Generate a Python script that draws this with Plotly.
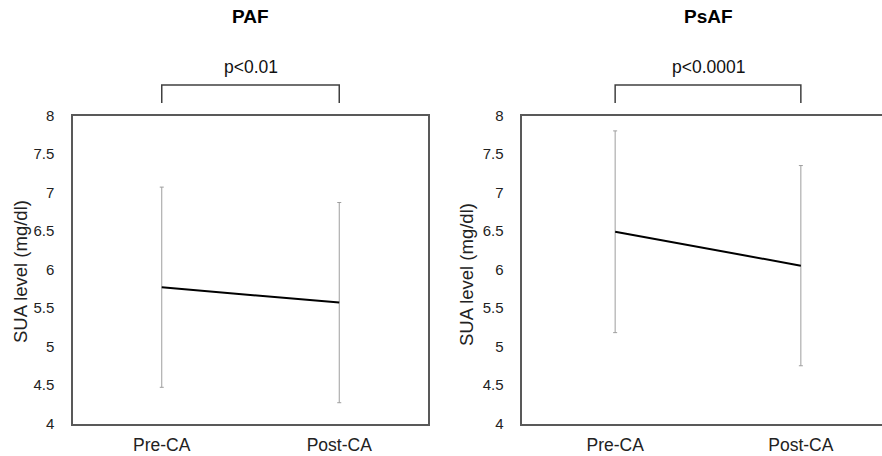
import plotly.graph_objects as go

categories = ["Pre-CA", "Post-CA"]
paf_mean = [5.77, 5.57]
paf_sd = [1.30, 1.30]
psaf_mean = [6.49, 6.05]
psaf_sd = [1.31, 1.30]
panel_titles = ["PAF", "PsAF"]
p_values = ["p<0.01", "p<0.0001"]
y_ticks = [4, 4.5, 5, 5.5, 6, 6.5, 7, 7.5, 8]
y_title = "SUA level (mg/dl)"

W, H = 882, 456
FONT = "Arial, Liberation Sans, sans-serif"
AXIS_COL = "#595959"

fig = go.Figure()
for i, (m, s) in enumerate([(paf_mean, paf_sd), (psaf_mean, psaf_sd)]):
    ax = "" if i == 0 else "2"
    fig.add_trace(go.Scatter(
        x=categories, y=m, mode="lines",
        line=dict(color="black", width=2),
        error_y=dict(type="data", array=s, visible=True, color="#9e9e9e",
                     thickness=1, width=2),
        xaxis="x" + ax, yaxis="y" + ax, showlegend=False, hoverinfo="skip"))

top_px, bot_px = 115.5, 423.5
ydom = [1 - bot_px / H, 1 - top_px / H]

common_y = dict(range=[4, 8], tickvals=y_ticks, showgrid=False, zeroline=False,
                showline=True, linecolor=AXIS_COL, linewidth=1.5, ticks="",
                ticklabelstandoff=14, tickfont=dict(family=FONT, size=15, color="#222"),
                domain=ydom, fixedrange=True, automargin=False)
common_x = dict(type="category", showgrid=False, zeroline=False, showline=True,
                linecolor=AXIS_COL, linewidth=1.5, ticks="", ticklabelstandoff=5,
                tickfont=dict(family=FONT, size=17.5, color="#222"), fixedrange=True,
                automargin=False)

fig.update_layout(
    width=W, height=H, margin=dict(l=0, r=0, t=0, b=0, autoexpand=False),
    plot_bgcolor="white", paper_bgcolor="white",
    xaxis=dict(common_x, domain=[73 / W, 428 / W], range=[-0.5, 1.5], mirror=True,
               anchor="y"),
    yaxis=dict(common_y, mirror=True, anchor="x"),
    xaxis2=dict(common_x, domain=[522.3 / W, 1.0], range=[-0.5, 1.437], mirror=True,
                anchor="y2"),
    yaxis2=dict(common_y, mirror=False, anchor="x2"),
)

shapes = []
annotations = []
for i, ax in enumerate(["x", "x2"]):
    y_top = 1 - 85 / H
    y_bot = 1 - 103 / H
    shapes.append(dict(type="path", xref=ax, yref="paper",
                       path=f"M 0,{y_bot} L 0,{y_top} L 1,{y_top} L 1,{y_bot}",
                       line=dict(color="#404040", width=1.5)))
    annotations.append(dict(text=p_values[i], xref=ax, yref="paper", x=0.5,
                            y=1 - 67 / H, xanchor="center", yanchor="middle",
                            showarrow=False, font=dict(family=FONT, size=17.5, color="#111")))
    annotations.append(dict(text="<b>" + panel_titles[i] + "</b>", xref=ax, yref="paper",
                            x=0.5, y=1 - 17 / H, xanchor="center", yanchor="middle",
                            showarrow=False, font=dict(family=FONT, size=19, color="black")))

for xc, yc in [(20, 272), (466, 275)]:
    annotations.append(dict(text=y_title, xref="paper", yref="paper", x=xc / W,
                            y=1 - yc / H, xanchor="center", yanchor="middle",
                            textangle=-90, showarrow=False,
                            font=dict(family=FONT, size=18.5, color="#222")))

fig.update_layout(shapes=shapes, annotations=annotations)
fig.write_html("out.html", config={"displayModeBar": False},
               post_script="document.body.style.margin='0';document.body.style.overflow='hidden';")
